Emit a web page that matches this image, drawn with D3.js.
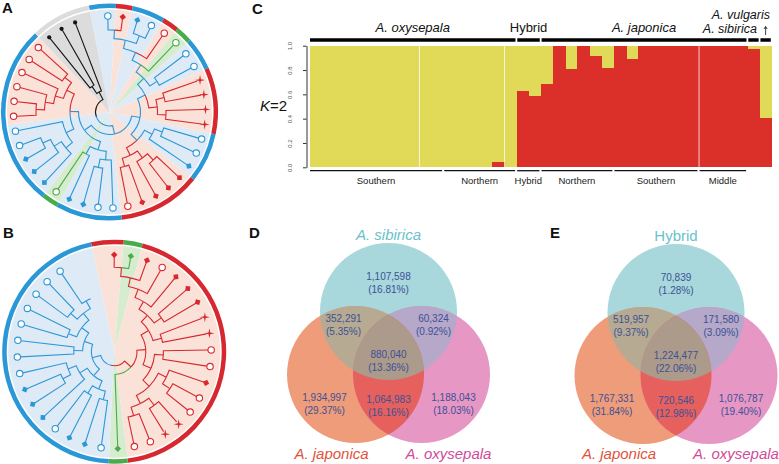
<!DOCTYPE html>
<html><head><meta charset="utf-8">
<script src="https://cdn.jsdelivr.net/npm/d3@7/dist/d3.min.js"></script>
<style>
body{margin:0;background:#fff;}
svg{display:block;font-family:"Liberation Sans",Arial,sans-serif;}
</style></head><body>
<svg id="fig" width="779" height="464"></svg>
<script>
// ================= DATA =================
// Panel C: STRUCTURE K=2, membership in the red cluster per individual (38 individuals)
const clusterRed = [0,0,0,0,0,0,0,0,0,0,0,0,0,0,0,0.04,0,
  0.63,0.586,
  0.685,1,0.81,1,0.918,0.814,1,0.89,1,1,1,1,1,1,1,1,1,
  0.973,0.403];
const speciesNames = ["A. oxysepala","Hybrid","A. japonica","A. vulgaris","A. sibirica"];
const speciesSizes = [17,2,17,1,1];
const regionNames = ["Southern","Northern","Hybrid","Northern","Southern","Middle"];
const regionSizes = [11,6,2,6,7,4];
const popBreaks = [9,16,32];
const yTicks = [0,0.2,0.4,0.6,0.8,1.0];

// Panels D and E: Venn diagrams (regions: T, TL, TR, C, L, B, R)
const vennDSets = ["A. sibirica","A. japonica","A. oxysepala"];
const vennDCounts = [1107598,352291,60324,880040,1934997,1064983,1188043];
const vennDPct = [16.81,5.35,0.92,13.36,29.37,16.16,18.03];
const vennESets = ["Hybrid","A. japonica","A. oxysepala"];
const vennECounts = [70839,519957,171580,1224477,1767331,720546,1076787];
const vennEPct = [1.28,9.37,3.09,22.06,31.84,12.98,19.40];

// Panel A tree (leaves numbered clockwise)
const aTop = [[[[1,2],[3,4]],5],6];
const aStars = [[9,10],[11,12]];
const aB13 = [[13,14],15];
const aRedD = [[[16,17],18],[19,20]];
const aC21 = [21,[22,23]];
const aBl = [[26,[27,[28,29]]],30];
const aRedC = [[[[31,32],33],34],[35,36]];
const treeA = [[[[[aTop,[7,8]],aStars],[aB13,aRedD]],[[aC21,[24,25]],[aBl,aRedC]]],[[37,38],39]];
const treeAColors = "brbbrgbbrrrrbbbrrrrrbbbbgbbbbbrrrrrrkkk".split("");
const treeARings  = "brbbrgbbrrrrbbbrrrrrbbbbgbbbbbbbbbbbkkk".split("");
const treeAShapes = "cddcccccssssccdddddcccddcdddccccccccooo".split("");

// Panel B tree
const bRtop = [[[[[[1,2],3],4],5],[6,7]],[8,9]];
const bRbot = [[10,11],[[12,[13,14]],[[15,16],[17,18]]]];
const bBlue = [[[[20,21],[22,23]],[24,[[25,26],27]]],[[28,29],[[30,31],[[32,33],[34,35]]]]];
const treeB = [[[bRtop,bRbot],19],bBlue];
const treeBColors = "rgrrrrrrrrrrrrrrrrgbbbbbbbbbbbbbbbb".split("");
const treeBShapes = "dddcdddssccdccssccdcddcdddcccccccc".split("");

// ================= DRAW =================
const svg = d3.select("#fig");
const defs = svg.append("defs");
const FONT = '"Liberation Sans",Arial,sans-serif';

function panelLabel(t, x, y){
  svg.append("text").attr("x",x).attr("y",y).attr("font-size",15).attr("font-weight","bold").attr("fill","#111").text(t);
}
panelLabel("A",2,13); panelLabel("B",3,238); panelLabel("C",252,14); panelLabel("D",249,238); panelLabel("E",550,238);

// ---------- Panel C ----------
const yellow = "#e0da58", red = "#db3029";
const x = d3.scaleBand().domain(d3.range(clusterRed.length)).range([310,772]).padding(0);
const y = d3.scaleLinear().domain([0,1]).range([167.3,45.7]);
const gC = svg.append("g");
gC.selectAll("rect.yb").data(clusterRed).join("rect").attr("class","yb")
  .attr("x",(d,i)=>x(i)).attr("width",(d,i)=>x.bandwidth()+(i<clusterRed.length-1?0.6:0))
  .attr("y",y(1)).attr("height",y(0)-y(1)).attr("fill",yellow).attr("shape-rendering","crispEdges");
gC.selectAll("rect.rb").data(clusterRed).join("rect").attr("class","rb")
  .attr("x",(d,i)=>x(i)).attr("width",(d,i)=>x.bandwidth()+(i<clusterRed.length-1?0.6:0))
  .attr("y",d=>y(d)).attr("height",d=>y(0)-y(d)).attr("fill",red).attr("shape-rendering","crispEdges");
gC.selectAll("line.pb").data(popBreaks).join("line").attr("class","pb")
  .attr("x1",d=>x(d)).attr("x2",d=>x(d)).attr("y1",y(1)).attr("y2",y(0))
  .attr("stroke","#fff").attr("stroke-opacity",0.85).attr("stroke-width",0.9);

const yAxis = gC.append("g").attr("transform","translate(306.5,0)")
  .call(d3.axisLeft(y).tickValues(yTicks).tickFormat(d3.format(".1f")).tickSize(3.5).tickSizeOuter(0));
yAxis.select(".domain").attr("stroke","#333");
yAxis.selectAll(".tick line").attr("stroke","#333");
yAxis.selectAll(".tick text").attr("transform","rotate(-90)").attr("x",0).attr("y",-14.5).attr("dy",0)
  .attr("text-anchor","middle").attr("font-size",6).attr("fill","#555").attr("font-family",FONT);

const kLab = gC.append("text").attr("x",260).attr("y",111).attr("font-size",15).attr("fill","#111");
kLab.append("tspan").attr("font-style","italic").text("K");
kLab.append("tspan").text("=2");

// species bars and labels
const spStart = [0, ...d3.cumsum(speciesSizes)];
speciesNames.forEach((name,i)=>{
  const s = spStart[i], e = spStart[i+1];
  const x0 = x(s) + (i===0?0:0.6), x1 = x(e-1) + x.bandwidth() - 1.2;
  gC.append("line").attr("x1",x0).attr("x2",x1).attr("y1",40).attr("y2",40).attr("stroke","#000").attr("stroke-width",3.5);
  const t = gC.append("text").attr("font-size",13).attr("fill","#111")
    .attr("font-style", name.startsWith("A.") ? "italic" : "normal").text(name);
  if (i < 3) t.attr("x",(x0+x1)/2).attr("y",32).attr("text-anchor","middle");
  else if (i === 3) t.attr("x",770).attr("y",18.5).attr("text-anchor","end").attr("font-size",12.5);
  else {
    t.attr("x",757).attr("y",33).attr("text-anchor","end").attr("font-size",12.5);
    const ax = (x0+x1)/2;
    gC.append("path").attr("d",`M${ax},35V26.5M${ax-1.6},29L${ax},26.5L${ax+1.6},29`)
      .attr("stroke","#111").attr("stroke-width",0.8).attr("fill","none");
  }
});
// region bars and labels
const rgStart = [0, ...d3.cumsum(regionSizes)];
regionNames.forEach((name,i)=>{
  const s = rgStart[i], e = rgStart[i+1];
  const x0 = x(s) + (i===0?0:0.5), x1 = x(e-1) + x.bandwidth() - 1.6;
  gC.append("line").attr("x1",x0).attr("x2",x1).attr("y1",170.7).attr("y2",170.7).attr("stroke","#111").attr("stroke-width",1.3);
  gC.append("text").attr("x",(x0+x1)/2).attr("y",183.5).attr("text-anchor","middle")
    .attr("font-size",9.5).attr("fill","#222").text(name);
});

// ---------- Venn diagrams ----------
const vennCols = {T:"#a8d7dc", L:"#ee9c79", R:"#e697c3", TL:"#b6aa93", TR:"#b5a8c8", LR:"#e6605e", C:"#ac9a8b"};
const labelCols = ["#69c2cb","#e1533b","#d04c9a"];
const regionOff = [[0,-28.5],[-45,13.5],[45,13.5],[0,49.5],[-64,92],[0,94],[65,92]];
function drawVenn(id, cx, cy, sets, counts, pcts){
  const r = 68.5;
  const C = [[cx,cy],[cx-33,cy+63],[cx+33,cy+63]];
  C.forEach((c,i)=>defs.append("clipPath").attr("id",`${id}c${i}`).append("circle").attr("cx",c[0]).attr("cy",c[1]).attr("r",r));
  const g = svg.append("g");
  const circ = (gg,i,fill)=>gg.append("circle").attr("cx",C[i][0]).attr("cy",C[i][1]).attr("r",r).attr("fill",fill);
  circ(g,0,vennCols.T); circ(g,1,vennCols.L); circ(g,2,vennCols.R);
  circ(g.append("g").attr("clip-path",`url(#${id}c0)`),1,vennCols.TL);
  circ(g.append("g").attr("clip-path",`url(#${id}c0)`),2,vennCols.TR);
  circ(g.append("g").attr("clip-path",`url(#${id}c1)`),2,vennCols.LR);
  circ(g.append("g").attr("clip-path",`url(#${id}c0)`).append("g").attr("clip-path",`url(#${id}c1)`),2,vennCols.C);
  const fmt = d3.format(","), pf = d3.format(".2f");
  counts.forEach((n,i)=>{
    const px = cx + regionOff[i][0], py = cy + regionOff[i][1];
    g.append("text").attr("x",px).attr("y",py-6.5).attr("dy","0.35em").attr("text-anchor","middle")
      .attr("font-size",10).attr("fill","#3c5196").text(fmt(n));
    g.append("text").attr("x",px).attr("y",py+6.5).attr("dy","0.35em").attr("text-anchor","middle")
      .attr("font-size",10).attr("fill","#3c5196").text(`(${pf(pcts[i])}%)`);
  });
  const lab = (t,xx,yy,col)=>g.append("text").attr("x",xx).attr("y",yy).attr("text-anchor","middle")
    .attr("font-size",15).attr("fill",col).attr("font-style",t.startsWith("A.")?"italic":"normal").text(t);
  lab(sets[0], cx, cy - r - 3, labelCols[0]);
  lab(sets[1], C[1][0]-24, 459, labelCols[1]);
  lab(sets[2], C[2][0]+27, 459, labelCols[2]);
}
drawVenn("vd", 388.5, 311.5, vennDSets, vennDCounts, vennDPct);
drawVenn("ve", 676, 312.5, vennESets, vennECounts, vennEPct);

// ---------- Trees ----------
const palette = {b:"#2a98d6", r:"#d7282f", g:"#4aab4a", k:"#151515"};
const wedgeFill = {b:"#dfeaf7", r:"#fbe2d8", g:"#d6eccf", k:"#dcdcdc"};
const ringFill = {b:"#2a98d6", r:"#d7282f", g:"#4aab4a", k:"#dcdcdc"};
const inset = {c:3.2, d:2, s:3, o:0};
function starPath(R, ri){
  let p = "";
  for (let k=0;k<8;k++){ const a = k*Math.PI/4, rr = k%2===0?R:ri; p += (k?"L":"M") + (rr*Math.sin(a)).toFixed(2) + "," + (-rr*Math.cos(a)).toFixed(2); }
  return p + "Z";
}
function drawTree(o){
  const g = svg.append("g").attr("transform",`translate(${o.cx},${o.cy})`);
  const root = d3.hierarchy(o.data, d => Array.isArray(d) ? d : null);
  const leaves = root.leaves(), N = leaves.length;
  const s = o.span/(N-1);
  d3.cluster().size([s*N,1]).separation(()=>1)(root);
  const rad = Math.PI/180;
  root.each(d=>{ d.a = (o.start - s/2 + d.x)*rad; d.r = d.children ? o.r0 + d.depth*o.step : o.mark; });
  root.eachAfter(d=>{
    if (!d.children){ d.col = o.colors[d.data-1]; return; }
    const cols = d.leaves().map(l=>o.colors[l.data-1]);
    const cnt = d3.rollup(cols, v=>v.length, c=>c);
    if (cnt.size===1) d.col = cols[0];
    else if (o.mixed) d.col = o.mixed;
    else d.col = d3.greatest(cnt, e=>e[1])[0];
  });
  const angs = leaves.map(d=>d.a);
  const bnd = angs.map((a,i)=>((i===0 ? angs[N-1]-2*Math.PI : angs[i-1]) + a)/2);
  bnd.push(bnd[0]+2*Math.PI);
  const runs = cls => { const out=[]; let st=0; for (let i=1;i<=N;i++){ if (i===N || cls[i]!==cls[st]){ out.push({c:cls[st],a0:bnd[st],a1:bnd[i]}); st=i; } } return out; };
  const arc = d3.arc();
  g.selectAll("path.w").data(runs(leaves.map(l=>o.colors[l.data-1]))).join("path").attr("class","w")
    .attr("d",d=>arc({innerRadius:0,outerRadius:o.wedgeR,startAngle:d.a0,endAngle:d.a1})).attr("fill",d=>wedgeFill[d.c]);
  g.selectAll("path.rg").data(runs(leaves.map(l=>o.rings[l.data-1]))).join("path").attr("class","rg")
    .attr("d",d=>arc({innerRadius:o.ringIn,outerRadius:o.ringOut,startAngle:d.a0,endAngle:d.a1})).attr("fill",d=>ringFill[d.c]);
  const X = (a,r)=>(r*Math.sin(a)).toFixed(2), Y = (a,r)=>(-r*Math.cos(a)).toFixed(2);
  g.selectAll("path.l").data(root.links()).join("path").attr("class","l")
    .attr("d",({source:p,target:c})=>{
      const r0 = p.r, r1 = c.children ? c.r : c.r - inset[o.shapes[c.data-1]];
      const sweep = c.a > p.a ? 1 : 0, large = Math.abs(c.a-p.a) > Math.PI ? 1 : 0;
      return `M${X(p.a,r0)},${Y(p.a,r0)}A${r0},${r0} 0 ${large} ${sweep} ${X(c.a,r0)},${Y(c.a,r0)}L${X(c.a,r1)},${Y(c.a,r1)}`;
    })
    .attr("fill","none").attr("stroke",d=>palette[d.target.col]).attr("stroke-width",1.1);
  const star = starPath(5,1.2);
  leaves.forEach(l=>{
    const sh = o.shapes[l.data-1], col = palette[l.col];
    const m = g.append("g").attr("transform",`translate(${X(l.a,l.r)},${Y(l.a,l.r)})`);
    if (sh==="c") m.append("circle").attr("r",3.2).attr("fill","#fff").attr("stroke",col).attr("stroke-width",1.1);
    else if (sh==="o") m.append("circle").attr("r",2.1).attr("fill",col);
    else if (sh==="d") m.append("path").attr("d","M-2.3,-2.3h4.6v4.6h-4.6z").attr("transform",`rotate(${l.a/rad+45})`).attr("fill",col);
    else if (sh==="s") m.append("path").attr("d",star).attr("fill",col);
  });
}
drawTree({data:treeA, colors:treeAColors, rings:treeARings, shapes:treeAShapes, cx:109.5, cy:112, start:-1, span:340,
  r0:14, step:8.5, mark:96, wedgeR:102.5, ringIn:104, ringOut:108.5, mixed:"b"});
drawTree({data:treeB, colors:treeBColors, rings:treeBColors, shapes:treeBShapes, cx:114.2, cy:351.7, start:0, span:336,
  r0:14, step:8.8, mark:97, wedgeR:106, ringIn:107.5, ringOut:112, mixed:null});
</script>
</body></html>
